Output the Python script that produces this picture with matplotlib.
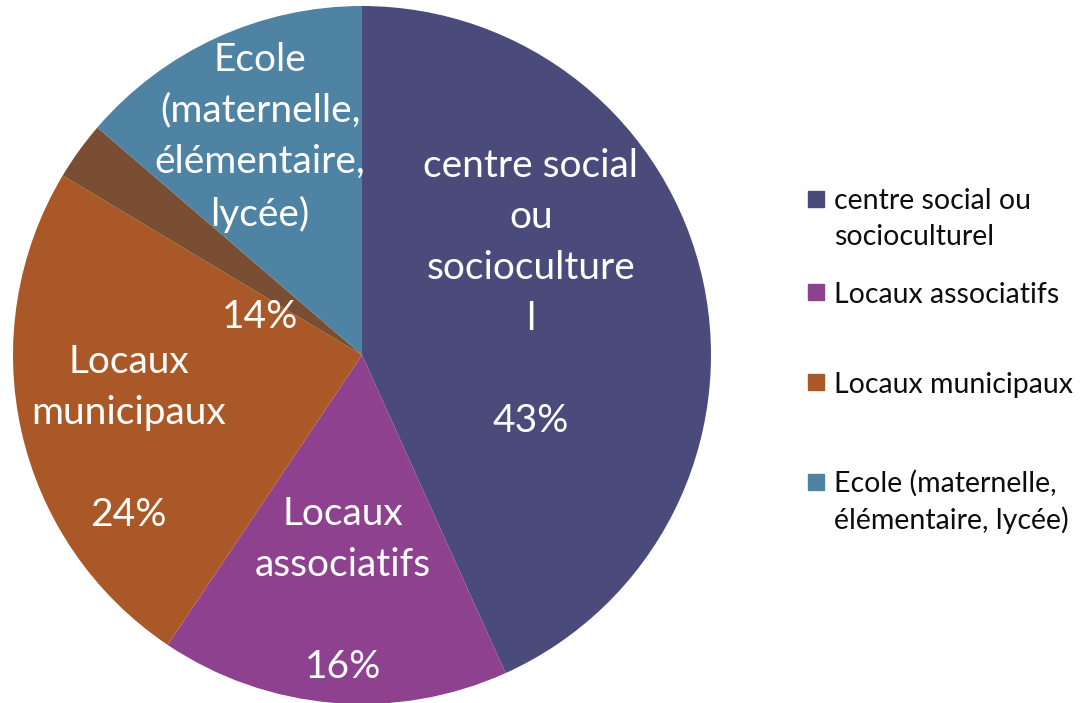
import numpy as np
import matplotlib.pyplot as plt
from matplotlib.patches import Rectangle

# data (shares in %, labels show them rounded)
categories = ["centre social ou socioculturel", "Locaux associatifs", "Locaux municipaux",
              "Autre", "Ecole (maternelle, élémentaire, lycée)"]
values = [43.25, 16.15, 24.2, 2.7, 13.7]
slice_labels = ["centre social\nou\nsocioculture\nl", "Locaux\nassociatifs", "Locaux\nmunicipaux",
                None, "Ecole\n(maternelle,\nélémentaire,\nlycée)"]
legend_labels = ["centre social ou\nsocioculturel", "Locaux associatifs", "Locaux municipaux",
                 "Ecole (maternelle,\nélémentaire, lycée)"]
legend_index = [0, 1, 2, 4]

colors = ["#4B4B7B", "#8E418E", "#AA5828", "#7A4E32", "#4F83A3"]
# label block centres, in pie data units
label_pos = [(0.484, 0.176), (-0.054, -0.675), (-0.668, -0.239), None, (-0.292, 0.478)]

plt.rcParams['font.family'] = ['Lato', 'DejaVu Sans']

fig = plt.figure(figsize=(10.89, 7.03), dpi=100)
W, H = 1089, 703
cx, cy, R = 362, 355, 349
ax = fig.add_axes([(cx - R) / W, (H - cy - R) / H, 2 * R / W, 2 * R / H])
wedges, _ = ax.pie(values, colors=colors, startangle=90, counterclock=False,
                   radius=1, wedgeprops=dict(linewidth=0))
ax.set_xlim(-1, 1)
ax.set_ylim(-1, 1)
ax.set_aspect('equal')
ax.axis('off')

for lab, v, pos in zip(slice_labels, values, label_pos):
    if lab is None:
        continue
    ax.text(pos[0], pos[1], lab + "\n\n" + f"{v:.0f}%", ha='center', va='center',
            color='white', fontsize=28, linespacing=1.52)

# legend drawn by hand (Excel spacing is uneven)
leg_y = [219, 295, 385, 502]
box = 16
for k, i in enumerate(legend_index):
    y = leg_y[k]
    top = y - 28 if "\n" in legend_labels[k] else y - 11
    fig.patches.append(Rectangle((808 / W, 1 - (top + box) / H), box / W, box / H,
                                 transform=fig.transFigure, color=colors[i]))
    fig.text(834 / W, 1 - y / H, legend_labels[k], ha='left', va='center',
             fontsize=20.5, color='#0d0d0d', linespacing=1.45)

fig.savefig("out.png", dpi=100)
